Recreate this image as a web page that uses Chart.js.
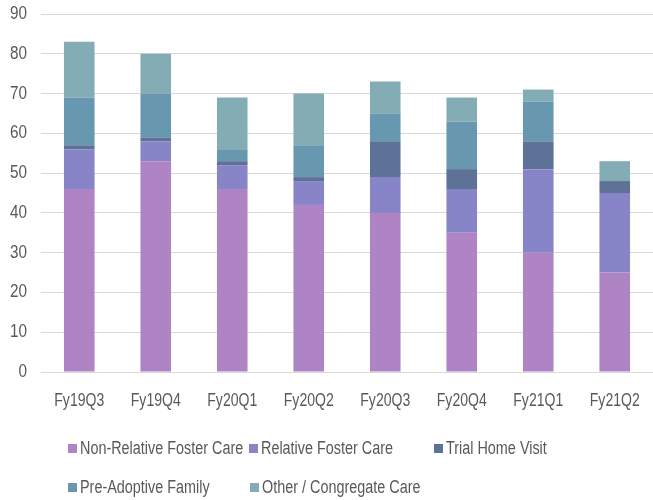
<!DOCTYPE html>
<html>
<head>
<meta charset="utf-8">
<script src="https://cdn.jsdelivr.net/npm/chart.js@4/dist/chart.umd.min.js"></script>
<style>
  html, body { margin: 0; padding: 0; background: #fff; }
  #wrap { position: relative; width: 653px; height: 500px; }
  #box { position: absolute; left: 0; top: 0; width: 653px; height: 420px; }
  #legend {
    position: absolute; left: 0; top: 0; width: 653px; height: 500px;
    font-family: "Liberation Sans", Arial, sans-serif;
    font-size: 18px; color: #595959;
  }
  #legend span.item { position: absolute; display: flex; align-items: center; white-space: nowrap; height: 20px; line-height: 20px; }
  #legend span.sw { display: inline-block; width: 9px; height: 9px; margin-right: 3px; }
  #legend span.txt { display: inline-block; transform: scaleX(0.8); transform-origin: left center; }
</style>
</head>
<body>
<div id="wrap">
  <div id="box"><canvas id="myChart"></canvas></div>
  <div id="legend"></div>
</div>
<script>
// 四半期
const quarters = ["Fy19Q3", "Fy19Q4", "Fy20Q1", "Fy20Q2", "Fy20Q3", "Fy20Q4", "Fy21Q1", "Fy21Q2"];

// 各カテゴリの人数
const nonRelative = [46, 53, 46, 42, 40, 35, 30, 25];
const relative    = [10, 5, 6, 6, 9, 11, 21, 20];
const trialHome   = [1, 1, 1, 1, 9, 5, 7, 3];
const preAdoptive = [12, 11, 3, 8, 7, 12, 10, 0];
const congregate  = [14, 10, 13, 13, 8, 6, 3, 5];

const yTicks = [0, 10, 20, 30, 40, 50, 60, 70, 80, 90];

const font = "'Liberation Sans', Arial, sans-serif";

// 細長い文字(Calibri風)で軸ラベルを描く
const narrowTicks = {
  id: "narrowTicks",
  afterDraw(chart) {
    const c = chart.ctx;
    const xs = chart.scales.x;
    const ys = chart.scales.y;
    c.save();
    c.fillStyle = "#595959";
    c.font = "18px " + font;
    c.textBaseline = "middle";
    c.textAlign = "center";
    xs.ticks.forEach((t, i) => {
      c.save();
      c.translate(xs.getPixelForTick(i), chart.chartArea.bottom + 29);
      c.scale(0.78, 1);
      c.fillText(chart.data.labels[i], 0, 0);
      c.restore();
    });
    c.textAlign = "right";
    ys.ticks.forEach((t) => {
      c.save();
      c.translate(chart.chartArea.left - 14, ys.getPixelForValue(t.value));
      c.scale(0.85, 1);
      c.fillText(String(t.value), 0, 0);
      c.restore();
    });
    c.restore();
  },
};

const ctx = document.getElementById("myChart").getContext("2d");
const myChart = new Chart(ctx, {
  type: "bar",
  data: {
    labels: quarters,
    datasets: [
      { label: "Non-Relative Foster Care", data: nonRelative, backgroundColor: "rgb(174, 132, 196)" },
      { label: "Relative Foster Care", data: relative, backgroundColor: "rgb(135, 132, 199)" },
      { label: "Trial Home Visit", data: trialHome, backgroundColor: "rgb(94, 114, 152)" },
      { label: "Pre-Adoptive Family", data: preAdoptive, backgroundColor: "rgb(104, 151, 176)" },
      { label: "Other / Congregate Care", data: congregate, backgroundColor: "rgb(132, 172, 181)" },
    ],
  },
  plugins: [narrowTicks],
  options: {
    responsive: true,
    maintainAspectRatio: false,
    animation: false,
    layout: { padding: { left: 0, right: -3, top: 14, bottom: 0 } },
    datasets: { bar: { categoryPercentage: 1, barPercentage: 0.4 } },
    plugins: {
      legend: { display: false },
      tooltip: { enabled: false },
    },
    scales: {
      x: {
        stacked: true,
        afterFit: (axis) => { axis.height = 48; },
        grid: { display: false },
        border: { color: "#d9d9d9" },
        ticks: { display: false },
      },
      y: {
        stacked: true,
        min: 0,
        max: 90,
        afterBuildTicks: (axis) => { axis.ticks = yTicks.map((v) => ({ value: v })); },
        afterFit: (axis) => { axis.width = 41; },
        grid: { color: "#d9d9d9", drawTicks: false },
        border: { display: false },
        ticks: { display: false },
      },
    },
  },
});

// 凡例(位置はExcel風に固定)
const legendPos = [[68, 438], [249, 438], [434, 438], [68, 477], [250, 477]];
const legend = document.getElementById("legend");
myChart.data.datasets.forEach((ds, i) => {
  const item = document.createElement("span");
  item.className = "item";
  item.style.left = legendPos[i][0] + "px";
  item.style.top = legendPos[i][1] + "px";
  const sw = document.createElement("span");
  sw.className = "sw";
  sw.style.background = ds.backgroundColor;
  const txt = document.createElement("span");
  txt.className = "txt";
  txt.textContent = ds.label;
  item.appendChild(sw);
  item.appendChild(txt);
  legend.appendChild(item);
});
</script>
</body>
</html>
